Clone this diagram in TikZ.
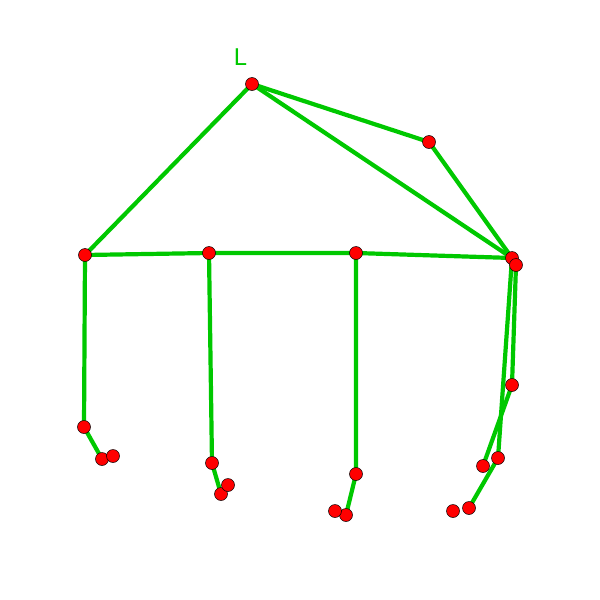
\documentclass[tikz,border=0pt]{standalone}
\usepackage{fontspec}
\setmainfont{DejaVu Sans}
\usetikzlibrary{backgrounds}
\definecolor{limb}{RGB}{0,200,0}
\definecolor{joint}{RGB}{255,0,0}
\begin{document}
\begin{tikzpicture}[x=1pt,y=-1pt,
  jt/.style={circle,fill=joint,draw=black,line width=0.5pt,minimum size=13pt,inner sep=0pt},
  bone/.style={draw=limb,line width=4.2pt}]
\useasboundingbox (0,0) rectangle (600,600);
\node[jt] (top) at (252,84) {};
\node[text=limb,font=\fontsize{23}{26}\selectfont,inner sep=0pt] (lab) at (240,57) {L};
\node[jt] (a) at (429,142) {};
\node[jt] (r1) at (512,258) {};
\node[jt] (r2) at (516,265) {};
\node[jt] (h1) at (85,255) {};
\node[jt] (h2) at (209,253) {};
\node[jt] (h3) at (356,253) {};
\node[jt] (k1) at (84,427) {};
\node[jt] (f1) at (102,459) {};
\node[jt] (t1) at (113,456) {};
\node[jt] (k2) at (212,463) {};
\node[jt] (f2) at (221,494) {};
\node[jt] (t2) at (228,485) {};
\node[jt] (k3) at (356,474) {};
\node[jt] (f3) at (346,515) {};
\node[jt] (t3) at (335,511) {};
\node[jt] (k4) at (512,385) {};
\node[jt] (f4) at (483,466) {};
\node[jt] (k5) at (498,458) {};
\node[jt] (f5) at (469,508) {};
\node[jt] (t5) at (453,511) {};
\begin{scope}[on background layer]
\draw[bone] (top.center) -- (h1.center);
\draw[bone] (top.center) -- (a.center) -- (r1.center);
\draw[bone] (top.center) -- (r1.center);
\draw[bone] (h1.center) -- (h2.center) -- (h3.center) -- (r1.center);
\draw[bone] (h1.center) -- (k1.center) -- (f1.center);
\draw[bone] (h2.center) -- (k2.center) -- (f2.center);
\draw[bone] (h3.center) -- (k3.center) -- (f3.center);
\draw[bone] (r2.center) -- (k4.center) -- (f4.center);
\draw[bone] (r1.center) -- (k5.center) -- (f5.center);
\end{scope}
\end{tikzpicture}
\end{document}
